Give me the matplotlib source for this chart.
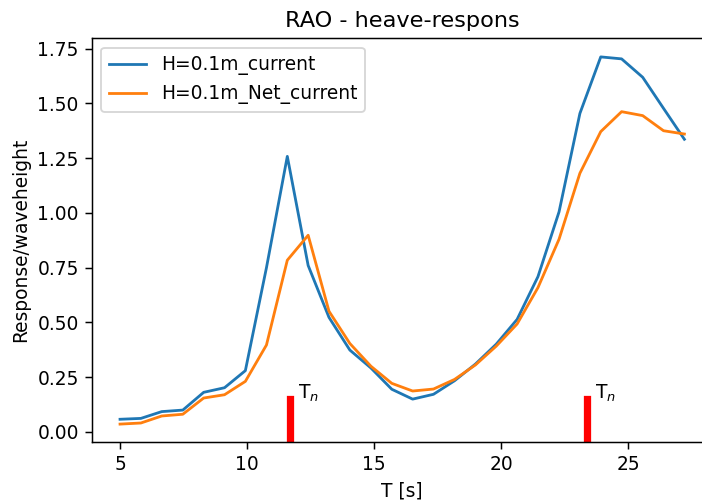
import matplotlib
matplotlib.use("Agg")
import matplotlib.pyplot as plt

T = [5.0, 5.82, 6.64, 7.47, 8.29, 9.11, 9.93, 10.76, 11.58, 12.4, 13.22, 14.04,
     14.87, 15.69, 16.51, 17.33, 18.16, 18.98, 19.8, 20.62, 21.44, 22.27, 23.09,
     23.91, 24.73, 25.56, 26.38, 27.2]

current = [0.058, 0.062, 0.093, 0.100, 0.181, 0.202, 0.280, 0.75, 1.258, 0.760,
           0.523, 0.374, 0.292, 0.195, 0.150, 0.172, 0.234, 0.310, 0.401, 0.514,
           0.709, 1.005, 1.454, 1.712, 1.703, 1.619, 1.477, 1.336]

net_current = [0.036, 0.041, 0.073, 0.081, 0.155, 0.170, 0.231, 0.397, 0.784,
               0.898, 0.551, 0.404, 0.300, 0.222, 0.187, 0.196, 0.240, 0.306,
               0.392, 0.493, 0.659, 0.880, 1.181, 1.371, 1.462, 1.444, 1.375, 1.360]

Tn = [11.69, 23.38]
labels = ["H=0.1m_current", "H=0.1m_Net_current"]

dpi = 134
fig = plt.figure(figsize=(702 / dpi, 501 / dpi), dpi=dpi)
ax = fig.add_axes([0.1308, 0.1172, 0.8843, 0.8064])

ax.plot(T, current, label=labels[0])
ax.plot(T, net_current, label=labels[1])

for t in Tn:
    ax.axvline(t, ymin=0, ymax=0.108, color="red", lw=3.9)
    ax.text(t + 0.3, 0.15, "T$_n$")

ax.set_xlim(3.89, 28.31)
ax.set_ylim(-0.047, 1.797)
ax.set_title("RAO - heave-respons")
ax.set_xlabel("T [s]")
ax.set_ylabel("Response/waveheight")
ax.legend(loc="upper left")

fig.savefig("out.png", dpi=dpi)
